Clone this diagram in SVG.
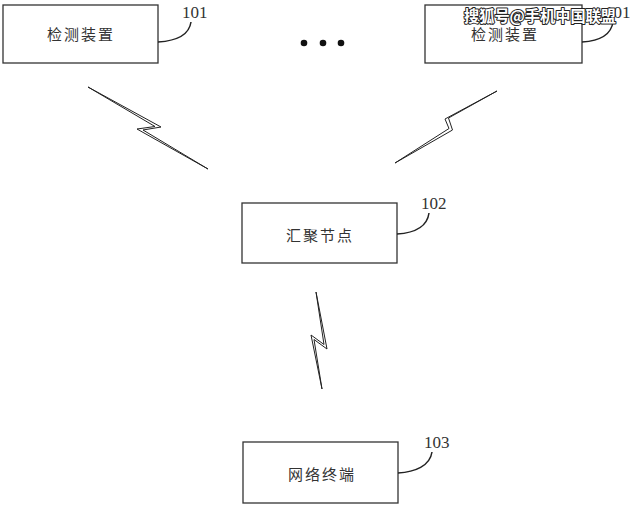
<svg xmlns="http://www.w3.org/2000/svg" width="633" height="505" viewBox="0 0 633 505">
<style>
.box{fill:#fff;stroke:#333;stroke-width:1.3}
.lbl{font-family:"Noto Sans CJK SC","Noto Sans",sans-serif;font-size:15px;fill:#333;letter-spacing:2px;text-anchor:middle;dominant-baseline:central}
.num{font-family:"Liberation Serif",serif;font-size:17px;fill:#333}
.lead{fill:none;stroke:#222;stroke-width:1.5}
.bolt{fill:#fff;stroke:#222;stroke-width:1;stroke-linejoin:miter}
.wm{font-family:"Noto Sans CJK SC",sans-serif;font-size:15.5px;font-weight:bold;fill:#fff;stroke:#222;stroke-width:2;paint-order:stroke;stroke-linejoin:round}
</style>
<rect width="633" height="505" fill="#fff"/>
<g id="node-101a">
<rect class="box" x="3" y="5" width="155" height="58"/>
<text class="lbl" x="81" y="33">检测装置</text>
<path class="lead" d="M158,42 C174,41 189,36 191,22"/>
<text class="num" x="182" y="18">101</text>
</g>
<g id="node-101b">
<rect class="box" x="425" y="5" width="157" height="58"/>
<text class="lbl" x="505" y="33">检测装置</text>
<path class="lead" d="M582,42 C598,41 611,36 613,22"/>
<text class="num" x="605" y="18">101</text>
</g>
<g id="dots" fill="#111">
<circle cx="304" cy="43" r="3.3"/>
<circle cx="323" cy="43" r="3.3"/>
<circle cx="341" cy="43" r="3.3"/>
</g>
<g id="node-102">
<rect class="box" x="242" y="203" width="155" height="60"/>
<text class="lbl" x="320" y="234">汇聚节点</text>
<path class="lead" d="M397,234 C413,233 427,228 429,213"/>
<text class="num" x="421" y="209">102</text>
</g>
<g id="node-103">
<rect class="box" x="243" y="442" width="155" height="61"/>
<text class="lbl" x="322" y="473">网络终端</text>
<path class="lead" d="M398,473 C415,472 430,466 432,452"/>
<text class="num" x="424" y="448">103</text>
</g>
<g id="connectors">
<polygon class="bolt" points="88,87 161,127 143,130 208,169 137,129 155,126.5"/>
<polygon class="bolt" points="395,163 449,128.5 445,119 497,91 448.5,118 452.5,130"/>
<polygon class="bolt" points="316,292 327,349 314,339.5 322,389 311,335 324,344.5"/>
</g>
<text class="wm" x="464" y="22" textLength="152" lengthAdjust="spacingAndGlyphs">搜狐号@手机中国联盟</text>
</svg>
